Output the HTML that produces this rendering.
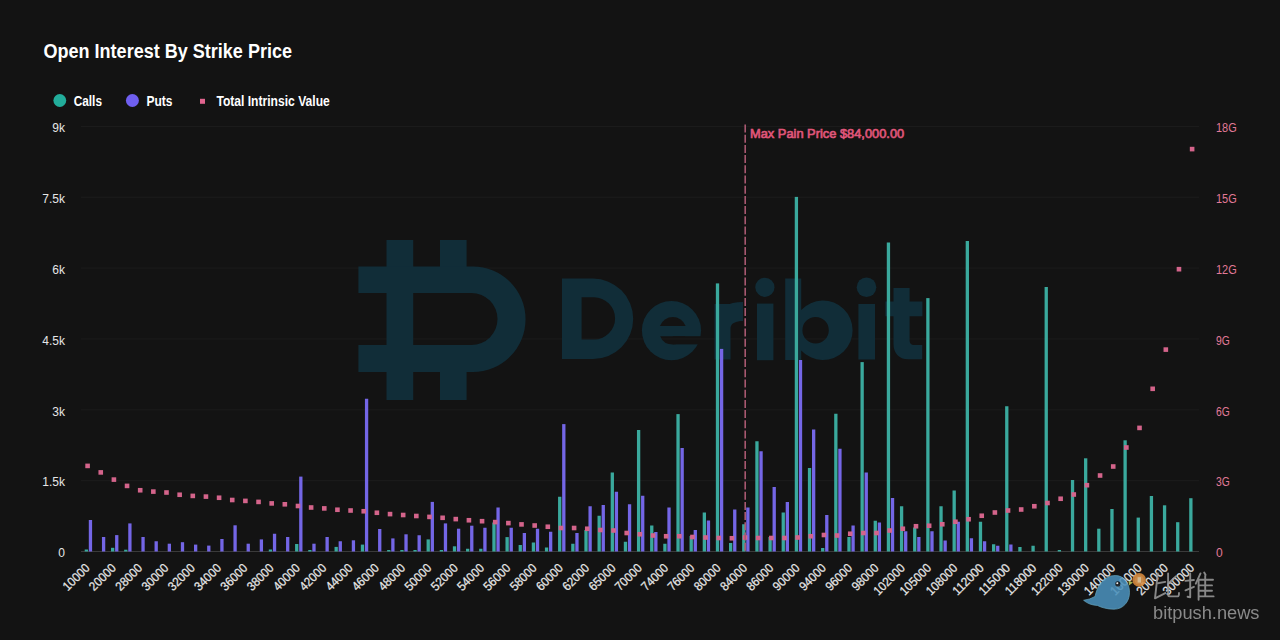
<!DOCTYPE html>
<html><head><meta charset="utf-8">
<style>
html,body{margin:0;padding:0;background:#131313;width:1280px;height:640px;overflow:hidden}
svg{display:block}
text{font-family:"Liberation Sans",sans-serif}
</style></head><body>
<svg width="1280" height="640" viewBox="0 0 1280 640">
<defs><mask id="emask" maskUnits="userSpaceOnUse" x="600" y="280" width="120" height="100">
<rect x="600" y="280" width="120" height="100" fill="#fff"/>
<path d="M659.9,326 A13.8,13.8 0 0 1 685.7,326 Z" fill="#000"/>
<path d="M660.1,336.2 A13.8,13.8 0 0 0 685.5,336.2 Z" fill="#000"/>
<rect x="672.8" y="336.2" width="40" height="8.2" fill="#000"/>
</mask></defs>
<rect width="1280" height="640" fill="#131313"/>
<g><line x1="81" y1="126.40" x2="1199" y2="126.40" stroke="#1c1c1c" stroke-width="1"/><line x1="81" y1="197.25" x2="1199" y2="197.25" stroke="#1c1c1c" stroke-width="1"/><line x1="81" y1="268.10" x2="1199" y2="268.10" stroke="#1c1c1c" stroke-width="1"/><line x1="81" y1="338.95" x2="1199" y2="338.95" stroke="#1c1c1c" stroke-width="1"/><line x1="81" y1="409.80" x2="1199" y2="409.80" stroke="#1c1c1c" stroke-width="1"/><line x1="81" y1="480.65" x2="1199" y2="480.65" stroke="#1c1c1c" stroke-width="1"/></g>
<!-- watermark logo -->
<g fill="#112d38">
  <rect x="386.5" y="240" width="26.7" height="160"/>
  <rect x="440" y="240" width="26.6" height="27"/>
  <rect x="440" y="371.5" width="26.6" height="28.5"/>
  <path d="M358.4 266.5 H472.8 A52.75 52.75 0 0 1 472.8 372 H358.4 V345 H471.5 A26 26 0 0 0 471.5 293 H358.4 Z"/>
  <path fill-rule="evenodd" d="M562,278.6 H593 A40.2,40.2 0 0 1 593,359 H562 Z M581.6,297.3 H594 A21.1,21.1 0 0 1 594,339.5 H581.6 Z"/>
  <g mask="url(#emask)"><circle cx="671.5" cy="330.6" r="29.6"/></g>
  <path d="M714.5,304 H730.5 V359.5 H714.5 Z M714.5,318 C718,308 728,302 743,302 V321 C736,321 731,323 730.5,328 Z"/>
  <rect x="757" y="303.6" width="16.4" height="56.6"/>
  <circle cx="764.9" cy="287.3" r="9.6"/>
  <path fill-rule="evenodd" d="M785.2,278.6 H801.2 V310 A29.7,29.7 0 1 1 801.2,350.5 V360 H785.2 Z M828.8,330.2 A13.2,13.2 0 1 0 802.4,330.2 A13.2,13.2 0 1 0 828.8,330.2 Z"/>
  <rect x="858.4" y="304" width="16.6" height="55.5"/>
  <circle cx="866.5" cy="287.3" r="9.8"/>
  <path d="M893.5,288 H909.6 V301.5 H922.4 V316.3 H909.6 V340.5 C909.6,343 911,345 914,345 H922.2 V359.3 H908 C899,359.3 893.5,353 893.5,344 V316.3 H885.4 V301.5 H893.5 Z"/>
</g>
<line x1="81" y1="551.5" x2="1199" y2="551.5" stroke="#3a3a3a" stroke-width="1"/>
<g><rect x="84.70" y="549.50" width="3.3" height="2.00" fill="#3aa99d"/><rect x="88.80" y="520.00" width="3.3" height="31.50" fill="#7466e6"/><rect x="101.95" y="537.00" width="3.3" height="14.50" fill="#7466e6"/><rect x="111.00" y="547.80" width="3.3" height="3.70" fill="#3aa99d"/><rect x="115.10" y="535.10" width="3.3" height="16.40" fill="#7466e6"/><rect x="124.15" y="549.70" width="3.3" height="1.80" fill="#3aa99d"/><rect x="128.25" y="523.40" width="3.3" height="28.10" fill="#7466e6"/><rect x="141.40" y="537.00" width="3.3" height="14.50" fill="#7466e6"/><rect x="154.54" y="541.25" width="3.3" height="10.25" fill="#7466e6"/><rect x="167.69" y="543.70" width="3.3" height="7.80" fill="#7466e6"/><rect x="180.84" y="542.20" width="3.3" height="9.30" fill="#7466e6"/><rect x="193.99" y="544.60" width="3.3" height="6.90" fill="#7466e6"/><rect x="207.14" y="545.60" width="3.3" height="5.90" fill="#7466e6"/><rect x="220.29" y="539.00" width="3.3" height="12.50" fill="#7466e6"/><rect x="233.44" y="525.30" width="3.3" height="26.20" fill="#7466e6"/><rect x="246.59" y="543.70" width="3.3" height="7.80" fill="#7466e6"/><rect x="259.74" y="539.40" width="3.3" height="12.10" fill="#7466e6"/><rect x="268.79" y="549.50" width="3.3" height="2.00" fill="#3aa99d"/><rect x="272.89" y="533.75" width="3.3" height="17.75" fill="#7466e6"/><rect x="286.04" y="537.00" width="3.3" height="14.50" fill="#7466e6"/><rect x="295.08" y="544.00" width="3.3" height="7.50" fill="#3aa99d"/><rect x="299.18" y="476.60" width="3.3" height="74.90" fill="#7466e6"/><rect x="308.23" y="550.00" width="3.3" height="1.50" fill="#3aa99d"/><rect x="312.33" y="543.70" width="3.3" height="7.80" fill="#7466e6"/><rect x="325.48" y="537.00" width="3.3" height="14.50" fill="#7466e6"/><rect x="334.53" y="546.90" width="3.3" height="4.60" fill="#3aa99d"/><rect x="338.63" y="541.25" width="3.3" height="10.25" fill="#7466e6"/><rect x="351.78" y="540.30" width="3.3" height="11.20" fill="#7466e6"/><rect x="360.83" y="544.60" width="3.3" height="6.90" fill="#3aa99d"/><rect x="364.93" y="398.75" width="3.3" height="152.75" fill="#7466e6"/><rect x="378.08" y="529.00" width="3.3" height="22.50" fill="#7466e6"/><rect x="387.13" y="550.00" width="3.3" height="1.50" fill="#3aa99d"/><rect x="391.23" y="538.40" width="3.3" height="13.10" fill="#7466e6"/><rect x="400.28" y="550.00" width="3.3" height="1.50" fill="#3aa99d"/><rect x="404.38" y="534.30" width="3.3" height="17.20" fill="#7466e6"/><rect x="413.42" y="550.00" width="3.3" height="1.50" fill="#3aa99d"/><rect x="417.52" y="535.25" width="3.3" height="16.25" fill="#7466e6"/><rect x="426.57" y="539.40" width="3.3" height="12.10" fill="#3aa99d"/><rect x="430.67" y="501.90" width="3.3" height="49.60" fill="#7466e6"/><rect x="439.72" y="550.00" width="3.3" height="1.50" fill="#3aa99d"/><rect x="443.82" y="523.40" width="3.3" height="28.10" fill="#7466e6"/><rect x="452.87" y="546.30" width="3.3" height="5.20" fill="#3aa99d"/><rect x="456.97" y="528.70" width="3.3" height="22.80" fill="#7466e6"/><rect x="466.02" y="548.75" width="3.3" height="2.75" fill="#3aa99d"/><rect x="470.12" y="525.70" width="3.3" height="25.80" fill="#7466e6"/><rect x="479.17" y="548.75" width="3.3" height="2.75" fill="#3aa99d"/><rect x="483.27" y="527.75" width="3.3" height="23.75" fill="#7466e6"/><rect x="492.32" y="522.50" width="3.3" height="29.00" fill="#3aa99d"/><rect x="496.42" y="507.50" width="3.3" height="44.00" fill="#7466e6"/><rect x="505.47" y="537.10" width="3.3" height="14.40" fill="#3aa99d"/><rect x="509.57" y="527.75" width="3.3" height="23.75" fill="#7466e6"/><rect x="518.62" y="545.00" width="3.3" height="6.50" fill="#3aa99d"/><rect x="522.72" y="533.00" width="3.3" height="18.50" fill="#7466e6"/><rect x="531.77" y="542.50" width="3.3" height="9.00" fill="#3aa99d"/><rect x="535.87" y="528.75" width="3.3" height="22.75" fill="#7466e6"/><rect x="544.91" y="547.50" width="3.3" height="4.00" fill="#3aa99d"/><rect x="549.01" y="531.75" width="3.3" height="19.75" fill="#7466e6"/><rect x="558.06" y="496.75" width="3.3" height="54.75" fill="#3aa99d"/><rect x="562.16" y="424.10" width="3.3" height="127.40" fill="#7466e6"/><rect x="571.21" y="543.75" width="3.3" height="7.75" fill="#3aa99d"/><rect x="575.31" y="533.00" width="3.3" height="18.50" fill="#7466e6"/><rect x="584.36" y="530.00" width="3.3" height="21.50" fill="#3aa99d"/><rect x="588.46" y="506.25" width="3.3" height="45.25" fill="#7466e6"/><rect x="597.51" y="515.75" width="3.3" height="35.75" fill="#3aa99d"/><rect x="601.61" y="505.00" width="3.3" height="46.50" fill="#7466e6"/><rect x="610.66" y="472.50" width="3.3" height="79.00" fill="#3aa99d"/><rect x="614.76" y="491.75" width="3.3" height="59.75" fill="#7466e6"/><rect x="623.81" y="541.75" width="3.3" height="9.75" fill="#3aa99d"/><rect x="627.91" y="504.25" width="3.3" height="47.25" fill="#7466e6"/><rect x="636.96" y="430.00" width="3.3" height="121.50" fill="#3aa99d"/><rect x="641.06" y="495.75" width="3.3" height="55.75" fill="#7466e6"/><rect x="650.11" y="525.50" width="3.3" height="26.00" fill="#3aa99d"/><rect x="654.21" y="532.00" width="3.3" height="19.50" fill="#7466e6"/><rect x="663.26" y="543.75" width="3.3" height="7.75" fill="#3aa99d"/><rect x="667.36" y="507.50" width="3.3" height="44.00" fill="#7466e6"/><rect x="676.40" y="414.10" width="3.3" height="137.40" fill="#3aa99d"/><rect x="680.50" y="448.00" width="3.3" height="103.50" fill="#7466e6"/><rect x="689.55" y="536.00" width="3.3" height="15.50" fill="#3aa99d"/><rect x="693.65" y="530.00" width="3.3" height="21.50" fill="#7466e6"/><rect x="702.70" y="512.50" width="3.3" height="39.00" fill="#3aa99d"/><rect x="706.80" y="520.50" width="3.3" height="31.00" fill="#7466e6"/><rect x="715.85" y="283.40" width="3.3" height="268.10" fill="#3aa99d"/><rect x="719.95" y="348.90" width="3.3" height="202.60" fill="#7466e6"/><rect x="729.00" y="543.00" width="3.3" height="8.50" fill="#3aa99d"/><rect x="733.10" y="509.50" width="3.3" height="42.00" fill="#7466e6"/><rect x="742.15" y="524.25" width="3.3" height="27.25" fill="#3aa99d"/><rect x="746.25" y="507.50" width="3.3" height="44.00" fill="#7466e6"/><rect x="755.30" y="441.25" width="3.3" height="110.25" fill="#3aa99d"/><rect x="759.40" y="451.25" width="3.3" height="100.25" fill="#7466e6"/><rect x="768.45" y="537.00" width="3.3" height="14.50" fill="#3aa99d"/><rect x="772.55" y="487.00" width="3.3" height="64.50" fill="#7466e6"/><rect x="781.60" y="512.50" width="3.3" height="39.00" fill="#3aa99d"/><rect x="785.70" y="502.00" width="3.3" height="49.50" fill="#7466e6"/><rect x="794.75" y="196.90" width="3.3" height="354.60" fill="#3aa99d"/><rect x="798.85" y="360.00" width="3.3" height="191.50" fill="#7466e6"/><rect x="807.89" y="468.00" width="3.3" height="83.50" fill="#3aa99d"/><rect x="812.00" y="429.50" width="3.3" height="122.00" fill="#7466e6"/><rect x="821.04" y="548.00" width="3.3" height="3.50" fill="#3aa99d"/><rect x="825.14" y="515.00" width="3.3" height="36.50" fill="#7466e6"/><rect x="834.19" y="413.75" width="3.3" height="137.75" fill="#3aa99d"/><rect x="838.29" y="448.75" width="3.3" height="102.75" fill="#7466e6"/><rect x="847.34" y="537.00" width="3.3" height="14.50" fill="#3aa99d"/><rect x="851.44" y="525.50" width="3.3" height="26.00" fill="#7466e6"/><rect x="860.49" y="362.10" width="3.3" height="189.40" fill="#3aa99d"/><rect x="864.59" y="472.50" width="3.3" height="79.00" fill="#7466e6"/><rect x="873.64" y="520.75" width="3.3" height="30.75" fill="#3aa99d"/><rect x="877.74" y="522.50" width="3.3" height="29.00" fill="#7466e6"/><rect x="886.79" y="242.50" width="3.3" height="309.00" fill="#3aa99d"/><rect x="890.89" y="498.00" width="3.3" height="53.50" fill="#7466e6"/><rect x="899.94" y="506.25" width="3.3" height="45.25" fill="#3aa99d"/><rect x="904.04" y="531.25" width="3.3" height="20.25" fill="#7466e6"/><rect x="913.09" y="527.50" width="3.3" height="24.00" fill="#3aa99d"/><rect x="917.19" y="537.00" width="3.3" height="14.50" fill="#7466e6"/><rect x="926.24" y="298.10" width="3.3" height="253.40" fill="#3aa99d"/><rect x="930.34" y="531.25" width="3.3" height="20.25" fill="#7466e6"/><rect x="939.38" y="506.25" width="3.3" height="45.25" fill="#3aa99d"/><rect x="943.49" y="540.50" width="3.3" height="11.00" fill="#7466e6"/><rect x="952.53" y="490.50" width="3.3" height="61.00" fill="#3aa99d"/><rect x="956.63" y="521.75" width="3.3" height="29.75" fill="#7466e6"/><rect x="965.68" y="241.00" width="3.3" height="310.50" fill="#3aa99d"/><rect x="969.78" y="538.25" width="3.3" height="13.25" fill="#7466e6"/><rect x="978.83" y="521.75" width="3.3" height="29.75" fill="#3aa99d"/><rect x="982.93" y="541.25" width="3.3" height="10.25" fill="#7466e6"/><rect x="991.98" y="544.25" width="3.3" height="7.25" fill="#3aa99d"/><rect x="996.08" y="545.75" width="3.3" height="5.75" fill="#7466e6"/><rect x="1005.13" y="406.25" width="3.3" height="145.25" fill="#3aa99d"/><rect x="1009.23" y="544.50" width="3.3" height="7.00" fill="#7466e6"/><rect x="1018.28" y="547.00" width="3.3" height="4.50" fill="#3aa99d"/><rect x="1031.43" y="545.75" width="3.3" height="5.75" fill="#3aa99d"/><rect x="1044.58" y="287.00" width="3.3" height="264.50" fill="#3aa99d"/><rect x="1057.73" y="550.00" width="3.3" height="1.50" fill="#3aa99d"/><rect x="1070.88" y="480.00" width="3.3" height="71.50" fill="#3aa99d"/><rect x="1084.02" y="458.30" width="3.3" height="93.20" fill="#3aa99d"/><rect x="1097.17" y="528.70" width="3.3" height="22.80" fill="#3aa99d"/><rect x="1110.32" y="509.00" width="3.3" height="42.50" fill="#3aa99d"/><rect x="1123.47" y="440.30" width="3.3" height="111.20" fill="#3aa99d"/><rect x="1136.62" y="517.60" width="3.3" height="33.90" fill="#3aa99d"/><rect x="1149.77" y="496.00" width="3.3" height="55.50" fill="#3aa99d"/><rect x="1162.92" y="505.30" width="3.3" height="46.20" fill="#3aa99d"/><rect x="1176.07" y="522.20" width="3.3" height="29.30" fill="#3aa99d"/><rect x="1189.22" y="498.20" width="3.3" height="53.30" fill="#3aa99d"/></g>
<g><rect x="85.30" y="463.60" width="4.6" height="4.6" fill="#d4648b"/><rect x="98.45" y="470.10" width="4.6" height="4.6" fill="#d4648b"/><rect x="111.60" y="477.30" width="4.6" height="4.6" fill="#d4648b"/><rect x="124.75" y="483.60" width="4.6" height="4.6" fill="#d4648b"/><rect x="137.90" y="487.95" width="4.6" height="4.6" fill="#d4648b"/><rect x="151.04" y="489.30" width="4.6" height="4.6" fill="#d4648b"/><rect x="164.19" y="490.20" width="4.6" height="4.6" fill="#d4648b"/><rect x="177.34" y="492.45" width="4.6" height="4.6" fill="#d4648b"/><rect x="190.49" y="493.60" width="4.6" height="4.6" fill="#d4648b"/><rect x="203.64" y="494.30" width="4.6" height="4.6" fill="#d4648b"/><rect x="216.79" y="495.45" width="4.6" height="4.6" fill="#d4648b"/><rect x="229.94" y="497.70" width="4.6" height="4.6" fill="#d4648b"/><rect x="243.09" y="498.60" width="4.6" height="4.6" fill="#d4648b"/><rect x="256.24" y="499.60" width="4.6" height="4.6" fill="#d4648b"/><rect x="269.39" y="501.10" width="4.6" height="4.6" fill="#d4648b"/><rect x="282.53" y="502.00" width="4.6" height="4.6" fill="#d4648b"/><rect x="295.68" y="503.70" width="4.6" height="4.6" fill="#d4648b"/><rect x="308.83" y="505.20" width="4.6" height="4.6" fill="#d4648b"/><rect x="321.98" y="506.10" width="4.6" height="4.6" fill="#d4648b"/><rect x="335.13" y="507.45" width="4.6" height="4.6" fill="#d4648b"/><rect x="348.28" y="508.20" width="4.6" height="4.6" fill="#d4648b"/><rect x="361.43" y="508.95" width="4.6" height="4.6" fill="#d4648b"/><rect x="374.58" y="510.45" width="4.6" height="4.6" fill="#d4648b"/><rect x="387.73" y="511.80" width="4.6" height="4.6" fill="#d4648b"/><rect x="400.88" y="512.70" width="4.6" height="4.6" fill="#d4648b"/><rect x="414.02" y="513.70" width="4.6" height="4.6" fill="#d4648b"/><rect x="427.17" y="514.60" width="4.6" height="4.6" fill="#d4648b"/><rect x="440.32" y="515.50" width="4.6" height="4.6" fill="#d4648b"/><rect x="453.47" y="516.80" width="4.6" height="4.6" fill="#d4648b"/><rect x="466.62" y="517.95" width="4.6" height="4.6" fill="#d4648b"/><rect x="479.77" y="518.90" width="4.6" height="4.6" fill="#d4648b"/><rect x="492.92" y="519.80" width="4.6" height="4.6" fill="#d4648b"/><rect x="506.07" y="520.80" width="4.6" height="4.6" fill="#d4648b"/><rect x="519.22" y="522.10" width="4.6" height="4.6" fill="#d4648b"/><rect x="532.37" y="523.20" width="4.6" height="4.6" fill="#d4648b"/><rect x="545.51" y="524.45" width="4.6" height="4.6" fill="#d4648b"/><rect x="558.66" y="525.70" width="4.6" height="4.6" fill="#d4648b"/><rect x="571.81" y="525.70" width="4.6" height="4.6" fill="#d4648b"/><rect x="584.96" y="526.45" width="4.6" height="4.6" fill="#d4648b"/><rect x="598.11" y="527.70" width="4.6" height="4.6" fill="#d4648b"/><rect x="611.26" y="528.20" width="4.6" height="4.6" fill="#d4648b"/><rect x="624.41" y="530.70" width="4.6" height="4.6" fill="#d4648b"/><rect x="637.56" y="531.95" width="4.6" height="4.6" fill="#d4648b"/><rect x="650.71" y="533.20" width="4.6" height="4.6" fill="#d4648b"/><rect x="663.86" y="533.95" width="4.6" height="4.6" fill="#d4648b"/><rect x="677.00" y="533.95" width="4.6" height="4.6" fill="#d4648b"/><rect x="690.15" y="534.70" width="4.6" height="4.6" fill="#d4648b"/><rect x="703.30" y="535.20" width="4.6" height="4.6" fill="#d4648b"/><rect x="716.45" y="535.70" width="4.6" height="4.6" fill="#d4648b"/><rect x="729.60" y="535.95" width="4.6" height="4.6" fill="#d4648b"/><rect x="742.75" y="535.20" width="4.6" height="4.6" fill="#d4648b"/><rect x="755.90" y="535.70" width="4.6" height="4.6" fill="#d4648b"/><rect x="769.05" y="535.70" width="4.6" height="4.6" fill="#d4648b"/><rect x="782.20" y="535.70" width="4.6" height="4.6" fill="#d4648b"/><rect x="795.35" y="535.20" width="4.6" height="4.6" fill="#d4648b"/><rect x="808.50" y="533.95" width="4.6" height="4.6" fill="#d4648b"/><rect x="821.64" y="532.70" width="4.6" height="4.6" fill="#d4648b"/><rect x="834.79" y="533.20" width="4.6" height="4.6" fill="#d4648b"/><rect x="847.94" y="531.45" width="4.6" height="4.6" fill="#d4648b"/><rect x="861.09" y="530.70" width="4.6" height="4.6" fill="#d4648b"/><rect x="874.24" y="530.70" width="4.6" height="4.6" fill="#d4648b"/><rect x="887.39" y="528.20" width="4.6" height="4.6" fill="#d4648b"/><rect x="900.54" y="526.45" width="4.6" height="4.6" fill="#d4648b"/><rect x="913.69" y="523.95" width="4.6" height="4.6" fill="#d4648b"/><rect x="926.84" y="523.45" width="4.6" height="4.6" fill="#d4648b"/><rect x="939.99" y="521.95" width="4.6" height="4.6" fill="#d4648b"/><rect x="953.13" y="519.45" width="4.6" height="4.6" fill="#d4648b"/><rect x="966.28" y="516.95" width="4.6" height="4.6" fill="#d4648b"/><rect x="979.43" y="513.45" width="4.6" height="4.6" fill="#d4648b"/><rect x="992.58" y="510.20" width="4.6" height="4.6" fill="#d4648b"/><rect x="1005.73" y="508.20" width="4.6" height="4.6" fill="#d4648b"/><rect x="1018.88" y="507.20" width="4.6" height="4.6" fill="#d4648b"/><rect x="1032.03" y="503.95" width="4.6" height="4.6" fill="#d4648b"/><rect x="1045.18" y="500.70" width="4.6" height="4.6" fill="#d4648b"/><rect x="1058.33" y="496.45" width="4.6" height="4.6" fill="#d4648b"/><rect x="1071.48" y="492.20" width="4.6" height="4.6" fill="#d4648b"/><rect x="1084.62" y="482.90" width="4.6" height="4.6" fill="#d4648b"/><rect x="1097.77" y="473.20" width="4.6" height="4.6" fill="#d4648b"/><rect x="1110.92" y="464.20" width="4.6" height="4.6" fill="#d4648b"/><rect x="1124.07" y="445.20" width="4.6" height="4.6" fill="#d4648b"/><rect x="1137.22" y="425.60" width="4.6" height="4.6" fill="#d4648b"/><rect x="1150.37" y="386.50" width="4.6" height="4.6" fill="#d4648b"/><rect x="1163.52" y="347.30" width="4.6" height="4.6" fill="#d4648b"/><rect x="1176.67" y="266.90" width="4.6" height="4.6" fill="#d4648b"/><rect x="1189.82" y="146.80" width="4.6" height="4.6" fill="#d4648b"/></g>
<line x1="745.2" y1="124.5" x2="745.2" y2="551" stroke="#a85870" stroke-width="1.6" stroke-dasharray="8,2.2"/>
<text x="750" y="138.2" font-size="13.6" fill="#e0567a" stroke="#e0567a" stroke-width="0.7" textLength="154.2" lengthAdjust="spacingAndGlyphs">Max Pain Price $84,000.00</text>
<g font-size="12"><text x="65" y="132.20" text-anchor="end" fill="#e6e6e6">9k</text><text x="1216" y="132.20" fill="#e27a98" textLength="20.7" lengthAdjust="spacingAndGlyphs">18G</text><text x="65" y="203.05" text-anchor="end" fill="#e6e6e6">7.5k</text><text x="1216" y="203.05" fill="#e27a98" textLength="20.7" lengthAdjust="spacingAndGlyphs">15G</text><text x="65" y="273.90" text-anchor="end" fill="#e6e6e6">6k</text><text x="1216" y="273.90" fill="#e27a98" textLength="20.7" lengthAdjust="spacingAndGlyphs">12G</text><text x="65" y="344.75" text-anchor="end" fill="#e6e6e6">4.5k</text><text x="1216" y="344.75" fill="#e27a98" textLength="13.8" lengthAdjust="spacingAndGlyphs">9G</text><text x="65" y="415.60" text-anchor="end" fill="#e6e6e6">3k</text><text x="1216" y="415.60" fill="#e27a98" textLength="13.8" lengthAdjust="spacingAndGlyphs">6G</text><text x="65" y="486.45" text-anchor="end" fill="#e6e6e6">1.5k</text><text x="1216" y="486.45" fill="#e27a98" textLength="13.8" lengthAdjust="spacingAndGlyphs">3G</text><text x="65" y="557.30" text-anchor="end" fill="#e6e6e6">0</text><text x="1216" y="557.30" fill="#e27a98" textLength="6.7" lengthAdjust="spacingAndGlyphs">0</text></g>
<g font-size="12.6" fill="#e6e6e6" stroke="#e6e6e6" stroke-width="0.25"><text transform="translate(90.50,568.8) rotate(-45)" text-anchor="end" textLength="32.10" lengthAdjust="spacingAndGlyphs">10000</text><text transform="translate(116.80,568.8) rotate(-45)" text-anchor="end" textLength="32.10" lengthAdjust="spacingAndGlyphs">20000</text><text transform="translate(143.10,568.8) rotate(-45)" text-anchor="end" textLength="32.10" lengthAdjust="spacingAndGlyphs">28000</text><text transform="translate(169.39,568.8) rotate(-45)" text-anchor="end" textLength="32.10" lengthAdjust="spacingAndGlyphs">30000</text><text transform="translate(195.69,568.8) rotate(-45)" text-anchor="end" textLength="32.10" lengthAdjust="spacingAndGlyphs">32000</text><text transform="translate(221.99,568.8) rotate(-45)" text-anchor="end" textLength="32.10" lengthAdjust="spacingAndGlyphs">34000</text><text transform="translate(248.29,568.8) rotate(-45)" text-anchor="end" textLength="32.10" lengthAdjust="spacingAndGlyphs">36000</text><text transform="translate(274.59,568.8) rotate(-45)" text-anchor="end" textLength="32.10" lengthAdjust="spacingAndGlyphs">38000</text><text transform="translate(300.88,568.8) rotate(-45)" text-anchor="end" textLength="32.10" lengthAdjust="spacingAndGlyphs">40000</text><text transform="translate(327.18,568.8) rotate(-45)" text-anchor="end" textLength="32.10" lengthAdjust="spacingAndGlyphs">42000</text><text transform="translate(353.48,568.8) rotate(-45)" text-anchor="end" textLength="32.10" lengthAdjust="spacingAndGlyphs">44000</text><text transform="translate(379.78,568.8) rotate(-45)" text-anchor="end" textLength="32.10" lengthAdjust="spacingAndGlyphs">46000</text><text transform="translate(406.08,568.8) rotate(-45)" text-anchor="end" textLength="32.10" lengthAdjust="spacingAndGlyphs">48000</text><text transform="translate(432.37,568.8) rotate(-45)" text-anchor="end" textLength="32.10" lengthAdjust="spacingAndGlyphs">50000</text><text transform="translate(458.67,568.8) rotate(-45)" text-anchor="end" textLength="32.10" lengthAdjust="spacingAndGlyphs">52000</text><text transform="translate(484.97,568.8) rotate(-45)" text-anchor="end" textLength="32.10" lengthAdjust="spacingAndGlyphs">54000</text><text transform="translate(511.27,568.8) rotate(-45)" text-anchor="end" textLength="32.10" lengthAdjust="spacingAndGlyphs">56000</text><text transform="translate(537.57,568.8) rotate(-45)" text-anchor="end" textLength="32.10" lengthAdjust="spacingAndGlyphs">58000</text><text transform="translate(563.86,568.8) rotate(-45)" text-anchor="end" textLength="32.10" lengthAdjust="spacingAndGlyphs">60000</text><text transform="translate(590.16,568.8) rotate(-45)" text-anchor="end" textLength="32.10" lengthAdjust="spacingAndGlyphs">62000</text><text transform="translate(616.46,568.8) rotate(-45)" text-anchor="end" textLength="32.10" lengthAdjust="spacingAndGlyphs">65000</text><text transform="translate(642.76,568.8) rotate(-45)" text-anchor="end" textLength="32.10" lengthAdjust="spacingAndGlyphs">70000</text><text transform="translate(669.06,568.8) rotate(-45)" text-anchor="end" textLength="32.10" lengthAdjust="spacingAndGlyphs">74000</text><text transform="translate(695.35,568.8) rotate(-45)" text-anchor="end" textLength="32.10" lengthAdjust="spacingAndGlyphs">76000</text><text transform="translate(721.65,568.8) rotate(-45)" text-anchor="end" textLength="32.10" lengthAdjust="spacingAndGlyphs">80000</text><text transform="translate(747.95,568.8) rotate(-45)" text-anchor="end" textLength="32.10" lengthAdjust="spacingAndGlyphs">84000</text><text transform="translate(774.25,568.8) rotate(-45)" text-anchor="end" textLength="32.10" lengthAdjust="spacingAndGlyphs">86000</text><text transform="translate(800.55,568.8) rotate(-45)" text-anchor="end" textLength="32.10" lengthAdjust="spacingAndGlyphs">90000</text><text transform="translate(826.84,568.8) rotate(-45)" text-anchor="end" textLength="32.10" lengthAdjust="spacingAndGlyphs">94000</text><text transform="translate(853.14,568.8) rotate(-45)" text-anchor="end" textLength="32.10" lengthAdjust="spacingAndGlyphs">96000</text><text transform="translate(879.44,568.8) rotate(-45)" text-anchor="end" textLength="32.10" lengthAdjust="spacingAndGlyphs">98000</text><text transform="translate(905.74,568.8) rotate(-45)" text-anchor="end" textLength="38.52" lengthAdjust="spacingAndGlyphs">102000</text><text transform="translate(932.04,568.8) rotate(-45)" text-anchor="end" textLength="38.52" lengthAdjust="spacingAndGlyphs">105000</text><text transform="translate(958.33,568.8) rotate(-45)" text-anchor="end" textLength="38.52" lengthAdjust="spacingAndGlyphs">108000</text><text transform="translate(984.63,568.8) rotate(-45)" text-anchor="end" textLength="38.52" lengthAdjust="spacingAndGlyphs">112000</text><text transform="translate(1010.93,568.8) rotate(-45)" text-anchor="end" textLength="38.52" lengthAdjust="spacingAndGlyphs">115000</text><text transform="translate(1037.23,568.8) rotate(-45)" text-anchor="end" textLength="38.52" lengthAdjust="spacingAndGlyphs">118000</text><text transform="translate(1063.53,568.8) rotate(-45)" text-anchor="end" textLength="38.52" lengthAdjust="spacingAndGlyphs">122000</text><text transform="translate(1089.82,568.8) rotate(-45)" text-anchor="end" textLength="38.52" lengthAdjust="spacingAndGlyphs">130000</text><text transform="translate(1116.12,568.8) rotate(-45)" text-anchor="end" textLength="38.52" lengthAdjust="spacingAndGlyphs">140000</text><text transform="translate(1142.42,568.8) rotate(-45)" text-anchor="end" textLength="38.52" lengthAdjust="spacingAndGlyphs">160000</text><text transform="translate(1168.72,568.8) rotate(-45)" text-anchor="end" textLength="38.52" lengthAdjust="spacingAndGlyphs">200000</text><text transform="translate(1195.02,568.8) rotate(-45)" text-anchor="end" textLength="38.52" lengthAdjust="spacingAndGlyphs">300000</text></g>
<text x="43.5" y="58" font-size="20.3" font-weight="bold" fill="#ffffff" textLength="248.5" lengthAdjust="spacingAndGlyphs">Open Interest By Strike Price</text>
<g font-size="14.2" font-weight="bold" fill="#ffffff">
<circle cx="59.8" cy="100.5" r="6.4" fill="#22ad9b"/>
<text x="73.7" y="105.8" textLength="28.3" lengthAdjust="spacingAndGlyphs">Calls</text>
<circle cx="132.4" cy="100.5" r="6.5" fill="#6f5ff0"/>
<text x="146.4" y="105.8" textLength="26" lengthAdjust="spacingAndGlyphs">Puts</text>
<rect x="200" y="98.8" width="5" height="5" fill="#e0648e"/>
<text x="216.4" y="105.8" textLength="113.4" lengthAdjust="spacingAndGlyphs">Total Intrinsic Value</text>
</g>
<!-- bitpush -->
<g opacity="0.88">
<path d="M1083.6,600.3 Q1090,599.5 1095,596.5 C1097.5,585 1104,575.5 1115.2,575.5 C1124,575.5 1129.5,583 1129.5,592.3 C1129.5,602 1123,609.2 1114,609.2 C1107,609.2 1101.5,607.5 1097.5,605.5 Q1089,605 1083.6,600.3 Z" fill="#4a90bb" stroke="#70b8d4" stroke-width="0.7"/>
<path d="M1128.5,580.5 L1133,582.5 L1129,585.5 Z" fill="#b9c85a"/>
<circle cx="1117.8" cy="583.9" r="2.6" fill="#101820"/>
<circle cx="1117.3" cy="583.3" r="1" fill="#ffffff"/>
<circle cx="1139.2" cy="579.9" r="6.8" fill="#d98a3c"/>
<circle cx="1139.2" cy="579.9" r="4.6" fill="#e39a50"/>
<rect x="1137.6" y="577.2" width="3.4" height="5.4" fill="#f0d0a0"/>
<g fill="none" stroke="#999999" stroke-width="1.9" stroke-linecap="round" stroke-linejoin="round">
<path d="M1157.8,573.4 L1155,598.3 L1165.3,593.1"/>
<path d="M1157.8,583.3 L1165.3,581.9"/>
<path d="M1168.1,573.4 L1168.1,595 Q1168.3,596.4 1170,596.4 L1177.8,596.4 Q1179,596.2 1179,593"/>
<path d="M1176.1,576.2 L1168.6,583.2"/>
<path d="M1185.5,580.9 L1193.9,580"/>
<path d="M1190.2,573.4 L1190.2,597.3 L1187.6,596.8"/>
<path d="M1185.5,590.3 L1193.9,586.8"/>
<path d="M1200.5,573.4 L1195.8,583.7"/>
<path d="M1198.6,579.5 L1198.6,599.7"/>
<path d="M1204.2,572.6 L1205.6,575"/>
<path d="M1205.2,576 L1205.2,596"/>
<path d="M1199,579.8 L1213,579.8 M1199,585.4 L1212,585.4 M1199,590.8 L1212,590.8 M1199,596.4 L1213.6,596.4"/>
</g>
<text x="1153" y="618.9" font-size="18" fill="#9a9a9a" textLength="106.5" lengthAdjust="spacingAndGlyphs">bitpush.news</text>
</g>
</svg>
</body></html>
